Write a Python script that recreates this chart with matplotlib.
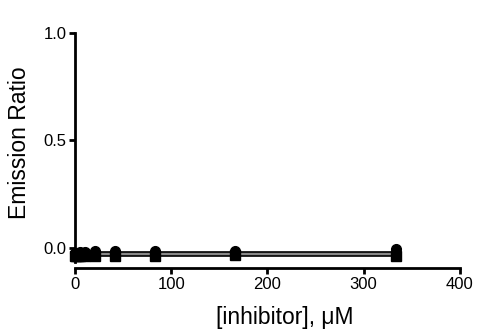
import numpy as np
import matplotlib.pyplot as plt

plt.rcParams['font.family'] = ['Liberation Sans', 'DejaVu Sans']

# inhibitor concentrations (uM), 2-fold dilution series
conc = [0, 1.3, 2.6, 5.2, 10.4, 20.8, 41.7, 83.3, 166.7, 333.3]
# emission ratio, two series
ratio_circle = [-0.025, -0.024, -0.022, -0.02, -0.018, -0.014, -0.012, -0.015, -0.012, -0.005]
ratio_square = [-0.038, -0.037, -0.037, -0.036, -0.036, -0.036, -0.037, -0.037, -0.034, -0.037]

xticks = [0, 100, 200, 300, 400]
yticks = [0.0, 0.5, 1.0]

fig = plt.figure(figsize=(4.78, 3.31), dpi=100)
ax = fig.add_axes([0.157, 0.2085, 0.805, 0.692])

# flat fits through each series
fit_c = np.mean(ratio_circle)
fit_s = np.mean(ratio_square)
xx = np.array([0, max(conc)])
ax.fill_between(xx, fit_s, fit_c, color='#888888', lw=0, zorder=2)
ax.plot(xx, [fit_c, fit_c], color='black', lw=1.2, zorder=3)
ax.plot(xx, [fit_s, fit_s], color='black', lw=1.2, zorder=3)

ax.plot(conc, ratio_circle, 'o', color='black', ms=7, clip_on=False, zorder=4)
ax.plot(conc, ratio_square, 's', color='black', ms=6.5, clip_on=False, zorder=4)

ax.set_xlim(0, 400)
ax.set_ylim(-0.065, 1.0)
ax.set_xticks(xticks)
ax.set_yticks(yticks)
ax.set_yticklabels(['%.1f' % v for v in yticks])

for s in ['top', 'right']:
    ax.spines[s].set_visible(False)
ax.spines['left'].set_linewidth(2)
ax.spines['bottom'].set_linewidth(2)
ax.spines['bottom'].set_position(('outward', 4.5))
ax.tick_params(width=2, length=4.5, labelsize=12, pad=1.5)

ax.set_xlabel('[inhibitor], μM', fontsize=16.5)
ax.xaxis.set_label_coords(0.545, -0.19)
ax.set_ylabel('Emission Ratio', fontsize=16.5)
ax.yaxis.set_label_coords(-0.115, 0.522)

fig.savefig('out.png', dpi=100)
